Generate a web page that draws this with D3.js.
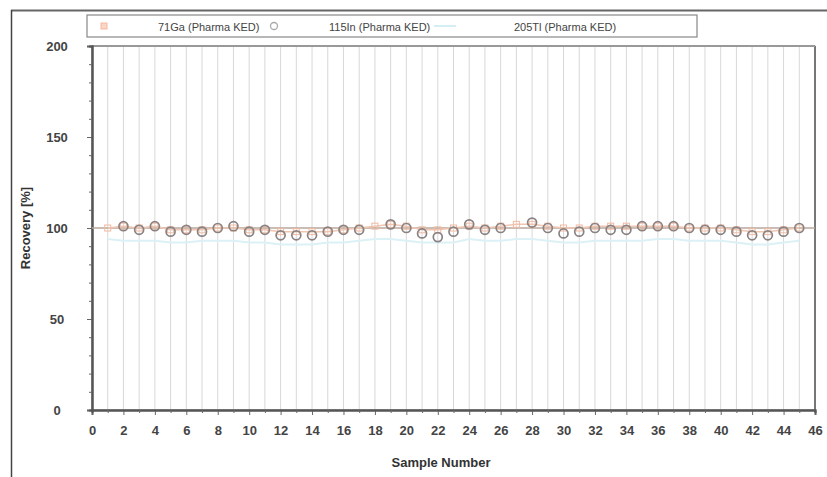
<!DOCTYPE html>
<html><head><meta charset="utf-8">
<script src="https://cdn.jsdelivr.net/npm/d3@7"></script>
<style>body{margin:0;background:#fff;font-family:"Liberation Sans",Arial,sans-serif}</style>
</head><body><svg id="c" width="827" height="477"></svg>
<script>
const samples = d3.range(1, 46);
const ga71 = [100,101,100,101,99,99,99,100,100,99,99,98,98,98,98,99,100,101,102,101,99,99,100,101,100,101,102,102,101,100,100,101,101,101,101,101,101,100,100,100,99,98,98,99,100];
const in115 = [null,101,99,101,98,99,98,100,101,98,99,96,96,96,98,99,99,null,102,100,97,95,98,102,99,100,null,103,100,97,98,100,99,99,101,101,101,100,99,99,98,96,96,98,100];
const tl205 = [94,93,93,93,92,92,93,93,93,92,92,91,91,91,92,92,93,94,94,93,92,92,92,94,93,93,94,94,93,92,92,93,93,93,93,94,94,93,93,93,92,91,91,92,93];
const xTicks = d3.range(0, 47, 2);
const yTicks = [0, 50, 100, 150, 200];
const seriesNames = ["71Ga (Pharma KED)", "115In (Pharma KED)", "205Tl (Pharma KED)"];

const svg = d3.select("#c");
const L = 92, R = 815, T = 46, B = 410;
const x = d3.scaleLinear().domain([0, 46]).range([L, R]);
const y = d3.scaleLinear().domain([0, 200]).range([B, T]);

// outer frame
svg.append("line").attr("x1", 11).attr("x2", 827).attr("y1", 10.5).attr("y2", 10.5).attr("stroke", "#666").attr("stroke-width", 2);
svg.append("line").attr("x1", 11.5).attr("x2", 11.5).attr("y1", 10).attr("y2", 477).attr("stroke", "#444").attr("stroke-width", 1.5);

// vertical grid
svg.append("g").selectAll("line").data(d3.range(1, 46)).join("line")
  .attr("x1", d => x(d)).attr("x2", d => x(d)).attr("y1", T).attr("y2", B)
  .attr("stroke", "#d8d8d8").attr("stroke-width", 1);

// plot border
svg.append("rect").attr("x", L).attr("y", T).attr("width", R - L).attr("height", B - T)
  .attr("fill", "none").attr("stroke", "#999").attr("stroke-width", 1);
svg.append("line").attr("x1", R).attr("x2", R).attr("y1", T).attr("y2", B).attr("stroke", "#777").attr("stroke-width", 2);
svg.append("line").attr("x1", L).attr("x2", R).attr("y1", T).attr("y2", T).attr("stroke", "#999").attr("stroke-width", 2);

// axes
const xAxis = d3.axisBottom(x).tickValues(xTicks).tickSize(5).tickPadding(11);
const gx = svg.append("g").attr("transform", `translate(0,${B})`).call(xAxis);
svg.append("g").attr("transform", `translate(0,${B})`).call(d3.axisBottom(x).tickValues(d3.range(1, 46, 2)).tickSize(3).tickFormat(""));
const yAxis = d3.axisLeft(y).tickValues(yTicks).tickSize(5).tickPadding(30);
const gy = svg.append("g").attr("transform", `translate(${L},0)`).call(yAxis);
gy.selectAll(".tick text").attr("text-anchor", "middle");
svg.append("g").attr("transform", `translate(${L},0)`).call(d3.axisLeft(y).tickValues(d3.range(10, 200, 10).filter(v => v % 50)).tickSize(3).tickFormat(""));
svg.selectAll(".domain").attr("stroke", "#555").attr("stroke-width", 2);
svg.selectAll(".tick line").attr("stroke", "#666");
svg.selectAll(".tick text").attr("font-size", 13).attr("font-weight", "bold").attr("fill", "#444").attr("font-family", "Liberation Sans, Arial, sans-serif");

// axis titles
svg.append("text").attr("x", 441).attr("y", 467).attr("text-anchor", "middle")
  .attr("font-size", 13).attr("font-weight", "bold").attr("fill", "#333").text("Sample Number");
svg.append("text").attr("transform", "translate(30,228) rotate(-90)").attr("text-anchor", "middle")
  .attr("font-size", 13).attr("font-weight", "bold").attr("fill", "#333").text("Recovery [%]");

// reference line at 100
svg.append("line").attr("x1", L).attr("x2", R).attr("y1", y(100)).attr("y2", y(100)).attr("stroke", "#b9a79c").attr("stroke-width", 1.5);

const clean = arr => samples.map((s, i) => ({s, v: arr[i]})).filter(d => d.v != null);
const line = d3.line().x(d => x(d.s)).y(d => y(d.v));

// 205Tl
svg.append("path").attr("d", line(clean(tl205))).attr("fill", "none").attr("stroke", "#dcf1f6").attr("stroke-width", 2);
// 71Ga
svg.append("path").attr("d", line(clean(ga71))).attr("fill", "none").attr("stroke", "#f1c6b0").attr("stroke-width", 1.5);
svg.append("g").selectAll("rect").data(clean(ga71)).join("rect")
  .attr("x", d => x(d.s) - 3).attr("y", d => y(d.v) - 3).attr("width", 6).attr("height", 6)
  .attr("fill", "none").attr("stroke", "#f0b9a0").attr("stroke-width", 1);
// 115In
svg.append("g").selectAll("circle").data(clean(in115)).join("circle")
  .attr("cx", d => x(d.s)).attr("cy", d => y(d.v)).attr("r", 4.5)
  .attr("fill", "none").attr("stroke", "#8a8282").attr("stroke-width", 1.7);

// legend
const lg = svg.append("g");
lg.append("rect").attr("x", 87).attr("y", 15).attr("width", 610).attr("height", 22)
  .attr("fill", "#fff").attr("stroke", "#888").attr("stroke-width", 1.2);
const legX = [[104, 158], [274, 329], [434, 514]];
seriesNames.forEach((n, i) => {
  const [mx, tx] = legX[i];
  if (i === 0) lg.append("rect").attr("x", mx - 3).attr("y", 23).attr("width", 6).attr("height", 6).attr("fill", "#fbd5c5").attr("stroke", "#f4b8a0");
  if (i === 1) lg.append("circle").attr("cx", mx).attr("cy", 26).attr("r", 3.5).attr("fill", "none").attr("stroke", "#aaa").attr("stroke-width", 1.3);
  if (i === 2) lg.append("line").attr("x1", mx).attr("x2", mx + 22).attr("y1", 26).attr("y2", 26).attr("stroke", "#d5eef4").attr("stroke-width", 2);
  lg.append("text").attr("x", tx).attr("y", 30.5).attr("font-size", 11).attr("fill", "#444").text(n);
});
</script></body></html>
